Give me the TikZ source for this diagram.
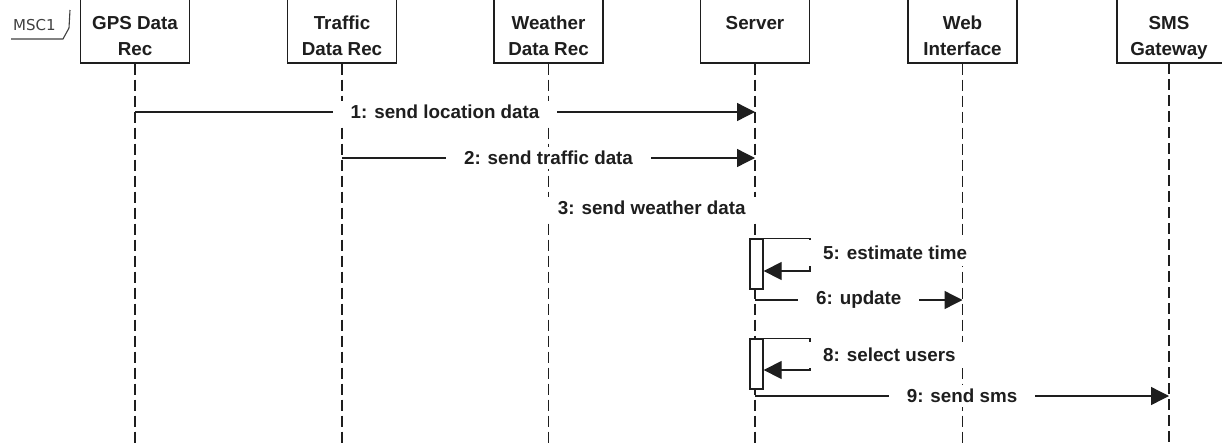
\documentclass[tikz,border=0pt]{standalone}
\usepackage{fontspec}
\setmainfont{Liberation Sans}
\newfontfamily\mscfont{DejaVu Sans}
\usetikzlibrary{arrows.meta,calc}
\definecolor{ink}{HTML}{1E1E1E}
\begin{document}
\begin{tikzpicture}[x=1pt,y=-1pt,
  headbox/.style={draw=ink, line width=1.3pt, minimum width=109pt, minimum height=83pt, inner sep=0pt},
  headtext/.style={font=\fontsize{18.8}{22}\selectfont\bfseries, text=ink, anchor=base, inner sep=0pt},
  lifeline/.style={draw=ink, line width=1.3pt, dash pattern=on 11pt off 5pt},
  msg/.style={draw=ink, line width=1.3pt, -{Triangle[length=18pt,width=18pt]}},
  msglabel/.style={font=\fontsize{18.8}{22}\selectfont\bfseries, text=ink, fill=white, inner xsep=18pt, inner ysep=4.5pt},
  actbox/.style={draw=ink, fill=white, line width=1.3pt, minimum width=13pt, minimum height=50pt, inner sep=0pt},
  tab/.style={draw=ink!85, line width=1.1pt}
]
\useasboundingbox (0,0) rectangle (1222,442);
\clip (0,0) rectangle (1222,442);
\fill[white] (0,0) rectangle (1222,442);

% frame tab
\node[font=\mscfont\fontsize{15}{18}\selectfont, text=ink!85, anchor=base west, inner sep=0pt] (msc) at (13,30) {MSC1};
\draw[tab] (11,39) -- (63,39) -- (69,28) -- (70,10);

% heads
\node[headbox] (gps) at (135,21.5) {};
\node[headbox] (tra) at (342,21.5) {};
\node[headbox] (wea) at (548.5,21.5) {};
\node[headbox] (srv) at (755,21.5) {};
\node[headbox] (web) at (962.5,21.5) {};
\node[headbox] (sms) at (1171.5,21.5) {};

\node[headtext] (gps1) at (135,29) {GPS Data};
\node[headtext] (gps2) at (135,55) {Rec};
\node[headtext] (tra1) at (342,29) {Traffic};
\node[headtext] (tra2) at (342,55) {Data Rec};
\node[headtext] (wea1) at (548.5,29) {Weather};
\node[headtext] (wea2) at (548.5,55) {Data Rec};
\node[headtext] (srv1) at (755,29) {Server};
\node[headtext] (web1) at (962.5,29) {Web};
\node[headtext] (web2) at (962.5,55) {Interface};
\node[headtext] (sms1) at (1169,29) {SMS};
\node[headtext] (sms2) at (1169,55) {Gateway};

% lifelines
\coordinate (bot) at (0,444);
\coordinate (smsl) at (1169,63);
\foreach \n in {gps,tra,wea,srv,web}
  \draw[lifeline] (\n.south) -- (\n.south |- bot);
\draw[lifeline] (smsl) -- (smsl |- bot);

% message rows
\coordinate (y1) at (0,112);
\coordinate (y2) at (0,158);
\coordinate (y3) at (0,208);
\coordinate (y6) at (0,300);
\coordinate (y9) at (0,396);

\draw[msg] (gps |- y1) -- node[msglabel] (l1) {1: send location data} (srv |- y1);
\draw[msg] (tra |- y2) -- node[msglabel] (l2) {2: send traffic data} (srv |- y2);
\node[msglabel] (l3) at ($(wea |- y3)!0.5!(srv |- y3)$) {3: send weather data};

% self message 5
\node[actbox] (act1) at (756.5,264) {};
\coordinate (t1) at (810,271);
\draw[msg] (act1.north east) -- (act1.north east -| t1) -- (t1) -- (act1.east |- t1);
\node[msglabel, anchor=west, inner ysep=6pt] (l5) at (805,253) {5: estimate time};

\draw[msg] (srv |- y6) -- node[msglabel] (l6) {6: update} (web |- y6);

% self message 8
\node[actbox] (act2) at (756.5,364) {};
\coordinate (t2) at (810,370);
\draw[msg] (act2.north east) -- (act2.north east -| t2) -- (t2) -- (act2.east |- t2);
\node[msglabel, anchor=west, inner ysep=6pt] (l8) at (805,355) {8: select users};

\draw[msg] (srv |- y9) -- node[msglabel] (l9) {9: send sms} (smsl |- y9);
\end{tikzpicture}
\end{document}
